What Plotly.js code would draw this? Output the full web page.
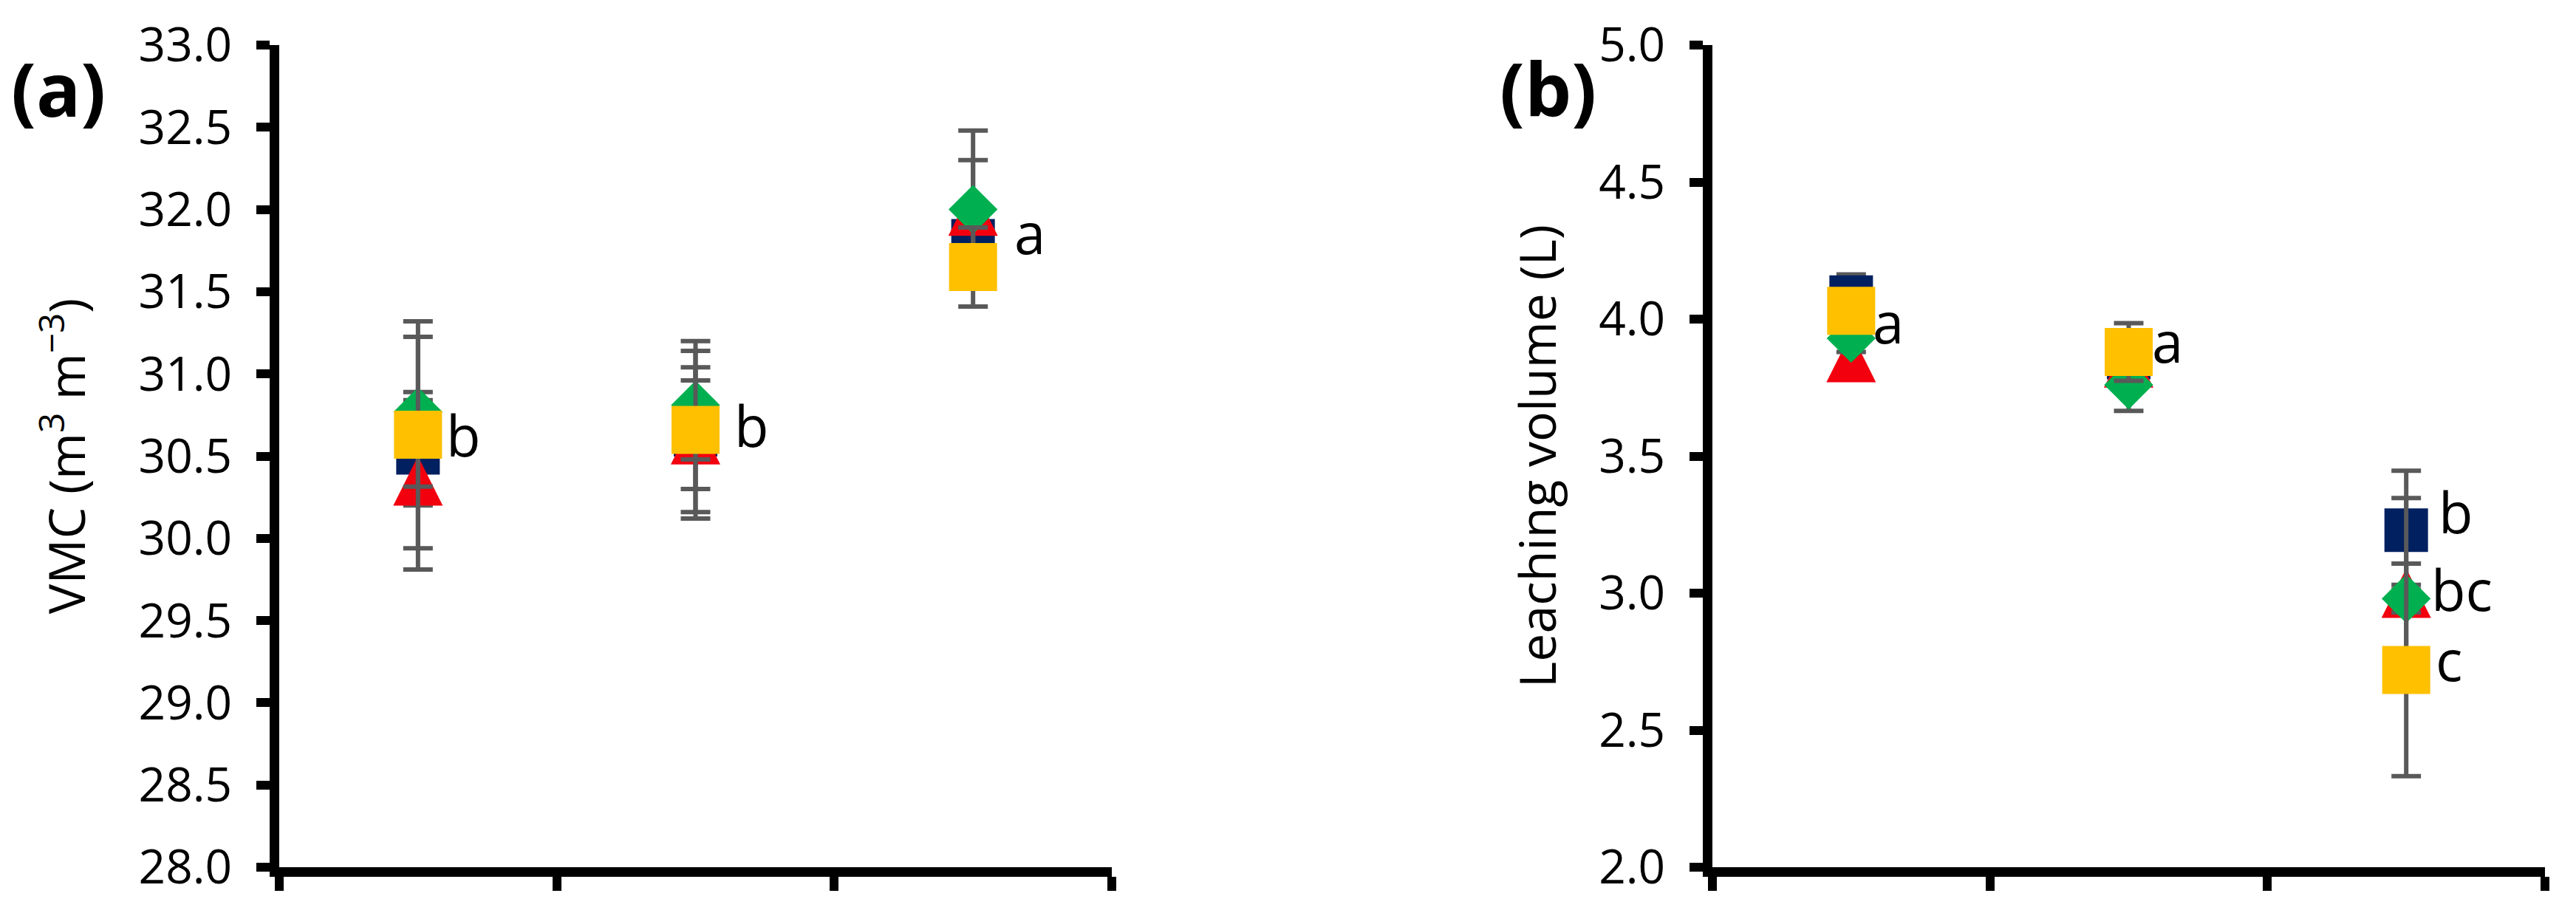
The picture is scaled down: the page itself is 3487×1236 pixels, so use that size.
<!DOCTYPE html>
<html>
<head>
<meta charset="utf-8">
<script src="https://cdn.plot.ly/plotly-3.0.1.min.js"></script>
<style>
html,body{margin:0;padding:0;background:#fff;}
#chart{width:3487px;height:1236px;}
</style>
</head>
<body>
<div id="chart"></div>
<script>
const cats = [1, 2, 3];

// (a) VMC (m3 m-3), four treatments per group
const vmcNavy = [30.52, 30.63, 31.81];
const vmcRed = [30.35, 30.60, 31.99];
const vmcGreen = [30.77, 30.81, 32.00];
const vmcYellow = [30.63, 30.66, 31.65];
const vmcNavyErr = [0.32, 0.33, 0.10];
const vmcRedErr = [0.54, 0.44, 0.31];
const vmcGreenErr = [0.455, 0.33, 0.48];
const vmcYellowErr = [0.69, 0.54, 0.24];

// (b) leaching volume (L)
const lvNavy = [4.08, 3.86, 3.23];
const lvRed = [3.86, 3.84, 3.00];
const lvGreen = [3.93, 3.76, 2.98];
const lvYellow = [4.03, 3.88, 2.72];
const lvNavyErr = [0.083, 0.05, 0.217];
const lvRedErr = [0.05, 0.05, 0.347];
const lvGreenErr = [0.05, 0.095, 0.05];
const lvYellowErr = [0.05, 0.105, 0.388];

// significance letters
const vmcLetters = ["b", "b", "a"];
const vmcLetterCat = [1, 2, 3];
const vmcLetterY = [30.63, 30.69, 31.82];
const lvLetters = ["a", "a", "b", "bc", "c"];
const lvLetterCat = [1, 2, 3, 3, 3];
const lvLetterY = [3.965, 3.897, 3.297, 3.014, 2.735];

const xTickVals = [0.5, 1.5, 2.5, 3.5];

/* ---------- style ---------- */
const W = 3487, H = 1236;
const FONT = "Open Sans";
const errColor = "#595959";
const vmcLetterShift = [36, 50, 54];
const lvLetterShift = [27, 29, 42, 32, 38];

function series(xa, ya, y, err, color, symbol, size, extra){
    let m = {color: color, symbol: symbol, size: size};
    Object.assign(m, extra || {});
    return {
        x: cats, y: y, xaxis: xa, yaxis: ya,
        type: "scatter", mode: "markers",
        marker: m,
        error_y: {type: "data", array: err, visible: true,
            color: errColor, thickness: 6, width: 20},
        hoverinfo: "skip"
    };
}

function tri(size){
    // upward triangle centred on the point
    return {angle: 180, standoff: size / 2};
}

function panel(xa, ya, navy, red, green, yellow, eN, eR, eG, eY){
    return [
        series(xa, ya, navy, eN, "#002060", "square", 59),
        series(xa, ya, red, eR, "#F2000E", "arrow-down", 67, tri(67)),
        series(xa, ya, green, eG, "#00B050", "diamond", 51),
        series(xa, ya, yellow, eY, "#FFC000", "square", 65)
    ];
}

let data = []
    .concat(panel("x", "y", vmcNavy, vmcRed, vmcGreen, vmcYellow,
        vmcNavyErr, vmcRedErr, vmcGreenErr, vmcYellowErr))
    .concat(panel("x2", "y2", lvNavy, lvRed, lvGreen, lvYellow,
        lvNavyErr, lvRedErr, lvGreenErr, lvYellowErr));

function xAxis(left, right, anchor){
    return {
        domain: [left / W, right / W], anchor: anchor,
        range: [0.5, 3.5], tickvals: xTickVals, showticklabels: false,
        ticks: "outside", ticklen: 19, tickwidth: 12, tickcolor: "#000",
        showline: true, linewidth: 13, linecolor: "#000",
        showgrid: false, zeroline: false, fixedrange: true
    };
}

function yAxis(lo, hi, title, anchor, standoff){
    return {
        domain: [1 - 1174 / H, 1 - 61 / H], anchor: anchor,
        range: [lo, hi], tick0: lo, dtick: 0.5, tickformat: ".1f",
        ticks: "outside", ticklen: 18, tickwidth: 12, tickcolor: "#000",
        showline: true, linewidth: 13, linecolor: "#000",
        showgrid: false, zeroline: false, fixedrange: true,
        tickfont: {family: FONT, size: 64, color: "#000"},
        ticklabelstandoff: 20,
        title: {text: title, standoff: standoff,
            font: {family: FONT, size: 68, color: "#000"}}
    };
}

let annotations = [];

function letters(xref, yref, txt, cat, ys, shifts){
    txt.forEach((t, i) => {
        annotations.push({
            xref: xref, yref: yref, x: cat[i], y: ys[i],
            text: t, showarrow: false, xanchor: "left", yanchor: "middle",
            xshift: shifts[i], yshift: /[bdfhklt]/.test(t) ? 0 : 9,
            font: {family: FONT, size: 76, color: "#000"}
        });
    });
}

letters("x", "y", vmcLetters, vmcLetterCat, vmcLetterY, vmcLetterShift);
letters("x2", "y2", lvLetters, lvLetterCat, lvLetterY, lvLetterShift);

annotations.push({xref: "paper", yref: "paper", x: 79 / W, y: 1 - 119 / H,
    text: "<b>(a)</b>", showarrow: false, xanchor: "center", yanchor: "middle",
    font: {family: FONT, size: 100, color: "#000"}});
annotations.push({xref: "paper", yref: "paper", x: 2095 / W, y: 1 - 119 / H,
    text: "<b>(b)</b>", showarrow: false, xanchor: "center", yanchor: "middle",
    font: {family: FONT, size: 100, color: "#000"}});

let layout = {
    width: W, height: H,
    margin: {l: 0, r: 0, t: 0, b: 0},
    paper_bgcolor: "#fff", plot_bgcolor: "#fff",
    showlegend: false,
    font: {family: FONT, color: "#000"},
    xaxis: xAxis(378, 1505, "y"),
    yaxis: yAxis(28, 33, "VMC (m<sup>3</sup> m<sup>\u22123</sup>)", "x", 55),
    xaxis2: xAxis(2318, 3445, "y2"),
    yaxis2: yAxis(2, 5, "Leaching volume (L)", "x2", 41),
    annotations: annotations
};

Plotly.newPlot("chart", data, layout, {staticPlot: true, displayModeBar: false});
</script>
</body>
</html>
